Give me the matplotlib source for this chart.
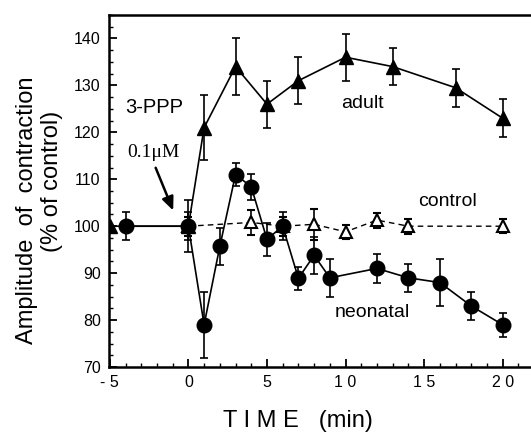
import numpy as np
import matplotlib
matplotlib.use('Agg')
import matplotlib.pyplot as plt
from matplotlib.ticker import MultipleLocator

plt.rcParams['font.family'] = ['Liberation Sans', 'DejaVu Sans']

# adult (filled triangles)
adult_t = [-5, 0, 1, 3, 5, 7, 10, 13, 17, 20]
adult_v = [100, 100, 121, 134, 126, 131, 136, 134, 129.5, 123]
adult_e = [0, 5.5, 7, 6, 5, 5, 5, 4, 4, 4]

# neonatal (filled circles)
neo_t = [-4, 0, 1, 2, 3, 4, 5, 6, 7, 8, 9, 12, 14, 16, 18, 20]
neo_v = [100, 100, 79, 95.7, 111, 108.4, 97.2, 100, 88.9, 93.8, 89, 91, 89, 88, 83, 79]
neo_e = [3, 3, 7, 4, 2.5, 2.8, 3.5, 3, 2.5, 4, 4, 3, 3, 5, 3, 2.6]

# control (open triangles, dashed)
ctl_t = [0, 4, 6, 8, 10, 12, 14, 20]
ctl_v = [100, 100.8, 100, 100.4, 98.8, 101.3, 100, 100]
ctl_e = [2, 2.6, 2, 3.3, 1.5, 1.6, 1.6, 1.5]

xticks = [-5, 0, 5, 10, 15, 20]
xticklabels = ['- 5', '0', '5', '1 0', '1 5', '2 0']
yticks = [70, 80, 90, 100, 110, 120, 130, 140]

fig = plt.figure(figsize=(5.31, 4.33), dpi=100)
ax = fig.add_axes([0.2053, 0.1524, 0.7947, 0.813])

ebkw = dict(ecolor='black', elinewidth=1.2, capsize=3, capthick=1.2)
ax.errorbar(ctl_t, ctl_v, yerr=ctl_e, fmt='^', ls='--', color='black', lw=1.0,
            mfc='white', mec='black', mew=1.5, ms=8, dashes=(4, 3), zorder=2, **ebkw)
ax.errorbar(adult_t, adult_v, yerr=adult_e, fmt='^-', color='black', lw=1.2,
            ms=10.5, zorder=3, **ebkw)
ax.errorbar(neo_t, neo_v, yerr=neo_e, fmt='o-', color='black', lw=1.2,
            ms=10.5, zorder=4, **ebkw)

ax.set_xlim(-5.05, 21.8)
ax.set_ylim(70, 145)
ax.set_xticks(xticks)
ax.set_xticklabels(xticklabels)
ax.set_yticks(yticks)
ax.xaxis.set_minor_locator(MultipleLocator(1))
ax.yaxis.set_minor_locator(MultipleLocator(2.5))
ax.tick_params(which='major', direction='in', length=6, width=1.3, labelsize=11.5, pad=6)
ax.tick_params(which='minor', direction='in', length=3, width=1.0)
ax.tick_params(axis='y', pad=6)
ax.spines['right'].set_visible(False)
for s in ['left', 'bottom', 'top']:
    ax.spines[s].set_linewidth(1.8)

ax.text(11.1, 126.2, 'adult', ha='center', va='center', fontsize=14)
ax.text(16.5, 105.3, 'control', ha='center', va='center', fontsize=14)
ax.text(11.7, 81.7, 'neonatal', ha='center', va='center', fontsize=14)
ax.text(-2.2, 125.2, '3-PPP', ha='center', va='center', fontsize=14.5)
ax.text(-2.2, 115.8, '0.1\u03bcM', ha='center', va='center', fontsize=14,
        family=['Liberation Serif', 'DejaVu Serif'])
ax.annotate('', xy=(-0.9, 102.8), xytext=(-2.15, 113),
            arrowprops=dict(arrowstyle='-|>,head_length=0.8,head_width=0.35',
                            color='black', lw=1.8))

fig.text(298 / 531, 1 - 421 / 433, 'T I M E   (min)', fontsize=17,
         ha='center', va='center')
fig.text(27 / 531, 0.5 + 6 / 433, 'Amplitude  of  contraction', fontsize=17,
         rotation=90, ha='center', va='center')
fig.text(52 / 531, 0.5 + 35 / 433, '(% of control)', fontsize=17,
         rotation=90, ha='center', va='center')

fig.savefig('out.png', dpi=100)
